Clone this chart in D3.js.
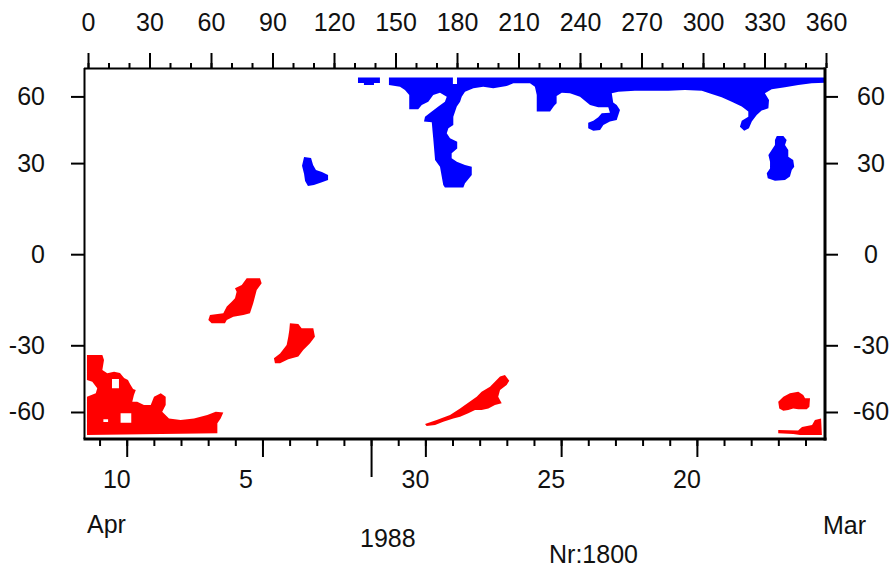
<!DOCTYPE html>
<html>
<head>
<meta charset="utf-8">
<script src="https://cdn.jsdelivr.net/npm/d3@7"></script>
<style>
  body { margin: 0; background: #fff; }
  text { font-family: "Liberation Sans", Arial, sans-serif; font-size: 25px; fill: #111; }
</style>
</head>
<body>
<div id="chart"></div>
<script>
// ---- data ----
// tick labels
var lonTicks = [0, 30, 60, 90, 120, 150, 180, 210, 240, 270, 300, 330, 360];
var latTicks = [-60, -30, 0, 30, 60];
var dayLabels = ["1988-04-10", "1988-04-05", "1988-03-30", "1988-03-25", "1988-03-20"];
var timeStart = "1988-04-11T13:45:00Z";   // left edge of the plot
var timeEnd = "1988-03-15T06:45:00Z";     // right edge of the plot

// northern areas, [lon, lat]
var northBand = [[146.8,76],[146.8,68.2],[152.2,66.8],[154.6,64.3],[156.7,60.9],[156.7,52.7],[161.1,52.7],[162.8,55.0],
  [166.0,56.8],[168.4,60.9],[171.7,62.4],[175.0,59.8],[174.1,56.8],[170.9,54.1],[167.7,51.5],[164.4,49.0],[163.9,46.7],
  [167.7,46.4],[168.1,42.2],[168.4,39.5],[169.3,31.1],[171.7,28.7],[173.3,22.3],[174.1,21.5],[183.1,21.5],[183.9,22.9],
  [187.2,25.8],[187.2,28.7],[183.9,29.3],[179.9,30.5],[177.4,31.8],[177.4,33.6],[180.1,35.5],[180.1,38.1],[176.6,39.5],
  [175.0,41.6],[175.8,43.7],[178.2,45.2],[178.2,49.0],[179.9,54.1],[181.5,56.8],[182.3,59.8],[183.9,63.1],[188.0,65.6],
  [192.8,66.8],[197.7,65.6],[204.2,67.4],[207.5,69.7],[215.6,69.7],[218.0,66.8],[218.9,60.9],[218.9,51.5],[225.4,51.5],
  [227.3,54.4],[228.6,55.9],[228.6,60.3],[231.1,62.4],[235.1,62.0],[240.0,59.8],[244.9,55.0],[248.9,53.7],[253.8,53.7],
  [254.6,50.9],[250.6,50.7],[248.9,48.7],[246.5,47.1],[244.0,46.2],[244.0,43.7],[246.5,42.7],[249.8,43.0],[251.4,45.2],
  [254.6,46.7],[257.9,47.4],[258.7,49.8],[259.5,52.3],[257.9,55.0],[256.2,56.3],[255.5,62.0],[258.7,63.1],[266.8,63.8],
  [275.0,63.8],[283.1,63.8],[291.2,64.3],[299.4,63.8],[304.2,61.6],[309.1,59.4],[314.0,56.8],[318.9,54.1],[322.1,51.5],
  [322.1,49.0],[318.9,47.1],[318.0,44.4],[320.1,42.7],[322.4,43.7],[323.8,46.7],[326.2,49.8],[328.6,52.0],[331.9,53.2],
  [332.2,57.8],[330.2,62.0],[333.5,64.8],[340.0,66.4],[346.5,68.2],[353.0,69.7],[360,70.3],[360,76],[180.0,76],
  [180.0,69.1],[178.0,69.1],[178.0,76]];
var northIsle = [[131.7,76],[142.4,76],[142.4,70],[139.5,70],[139.5,68.2],[134.6,68.2],[134.6,70],[131.7,70]];
var northAsia = [[105.4,32.2],[108.8,31.9],[109.8,29.3],[111.2,27.5],[114.1,26.8],[117.1,25.8],[117.1,24.0],[114.1,23.3],
  [110.2,22.3],[107.3,22.0],[105.9,23.7],[105.4,26.1],[104.4,29.0]];
var northAtlantic = [[336.0,40.4],[339.2,40.4],[340.8,38.8],[340.0,36.8],[341.6,34.9],[341.6,32.3],[344.0,31.1],[344.5,28.7],
  [343.3,27.5],[342.4,25.2],[340.0,24.0],[335.1,23.8],[331.6,24.6],[331.1,26.4],[332.7,28.1],[332.7,30.5],[331.9,33.0],
  [333.5,34.9],[335.1,36.8],[335.1,38.8]];

// southern areas, [lon, lat]
var southWest = [[-0.5,-33.6],[7.0,-33.6],[7.8,-35.5],[7.0,-39.5],[9.4,-40.8],[12.7,-40.2],[15.6,-40.7],[17.6,-42.8],
  [19.5,-43.7],[20.5,-45.4],[22.0,-47.7],[23.3,-48.2],[22.4,-50.6],[21.6,-54.1],[24.0,-54.1],[27.3,-55.9],[30.6,-55.9],
  [32.2,-51.5],[35.5,-49.8],[37.9,-51.5],[37.9,-55.9],[36.2,-59.8],[39.5,-64.3],[45.2,-65.5],[51.7,-64.3],[58.2,-61.9],
  [62.3,-59.8],[66.0,-60.4],[64.7,-64.3],[63.1,-68.1],[63.1,-79.4],[-0.5,-82.9],[-0.5,-51.5],[3.8,-49.8],[4.5,-47.4],
  [2.1,-44.4],[-0.5,-43.7]];
var southWestHoleA = [[11.7,-43.2],[15.1,-43.2],[15.1,-47.4],[11.7,-47.4]];
var southWestHoleB = [[15.9,-60.8],[21.1,-60.8],[21.1,-67.6],[15.9,-67.6]];
var southWestHoleC = [[7.5,-65.0],[9.8,-65.0],[9.8,-67.1],[7.5,-67.1]];
var southIndianA = [[77.4,-7.6],[83.9,-7.6],[84.7,-9.2],[82.3,-11.3],[80.6,-15.6],[79.0,-18.9],[75.8,-19.5],[70.9,-20.1],
  [67.7,-21.2],[66.8,-22.3],[60.3,-22.3],[58.7,-21.2],[59.5,-19.5],[66.0,-18.9],[67.7,-16.7],[70.1,-15.1],[71.7,-14.0],
  [72.5,-11.9],[71.7,-10.8],[75.0,-9.7]];
var southIndianB = [[98.5,-22.3],[102.6,-22.5],[104.2,-24.0],[109.9,-24.0],[110.7,-26.9],[108.3,-29.3],[105.0,-31.7],
  [102.6,-34.2],[97.7,-35.2],[93.7,-36.8],[91.2,-36.8],[90.7,-34.8],[93.7,-33.0],[96.9,-29.9],[97.7,-26.9],[98.2,-24.6]];
var southPacific = [[164.4,-68.7],[170.1,-65.5],[176.6,-61.9],[181.5,-57.8],[183.9,-55.9],[189.6,-51.5],[192.0,-49.0],
  [196.1,-46.7],[201.0,-42.2],[203.4,-41.5],[205.5,-44.0],[204.2,-45.9],[201.0,-48.2],[200.1,-51.5],[201.8,-54.9],
  [198.5,-55.9],[195.3,-57.8],[192.0,-58.8],[188.8,-58.8],[185.5,-60.8],[181.5,-63.1],[178.2,-64.3],[173.3,-66.8],
  [169.3,-69.6],[165.2,-70.6]];
var southEastA = [[339.2,-51.5],[342.4,-49.8],[346.5,-49.0],[348.9,-50.6],[349.8,-52.3],[352.2,-52.3],[351.9,-56.8],
  [350.6,-58.3],[346.5,-58.3],[344.0,-57.8],[341.6,-58.8],[339.2,-59.2],[337.2,-57.8],[336.7,-54.1]];
var southEastB = [[336.7,-74.8],[346.4,-75.4],[348.3,-71.5],[353.2,-69.6],[354.6,-65.5],[357.6,-64.3],[358.0,-82.9],
  [347.3,-82.9],[344.0,-80.6],[336.7,-79.4]];

// each shape: outer ring first, holes after
var northShapes = [[northBand], [northIsle], [northAsia], [northAtlantic]];
var southShapes = [[southWest, southWestHoleA, southWestHoleB, southWestHoleC], [southIndianA], [southIndianB],
  [southPacific], [southEastA], [southEastB]];

// ---- layout ----
var width = 890, height = 570;
var frame = {left: 84, right: 825, top: 68, bottom: 439};

var svg = d3.select("#chart")
  .append("svg")
    .attr("width", width)
    .attr("height", height);

// longitude along the top
var x = d3.scaleLinear()
  .domain([0, 360])
  .range([88, 826]);

// latitude on a sine (equal area) scale
var ys = d3.scaleLinear()
  .domain([-1, 1])
  .range([436.4, 72.0]);
function sinLat(d) { return Math.sin(d * Math.PI / 180); }
function y(lat) { return ys(sinLat(lat)); }

// time along the bottom, running backwards
var t = d3.scaleUtc()
  .domain([new Date(timeStart), new Date(timeEnd)])
  .range([frame.left, frame.right]);

// clip the areas to the frame
svg.append("clipPath")
    .attr("id", "plotClip")
  .append("rect")
    .attr("x", frame.left)
    .attr("y", frame.top)
    .attr("width", frame.right - frame.left)
    .attr("height", frame.bottom - frame.top);

var outline = d3.line()
  .x(function (d) { return x(d[0]); })
  .y(function (d) { return y(d[1]); })
  .curve(d3.curveLinearClosed);

function shapePath(rings) { return rings.map(function (r) { return outline(r); }).join(""); }

var areas = svg.append("g").attr("clip-path", "url(#plotClip)");
areas.selectAll(".north")
  .data(northShapes)
  .join("path")
    .attr("class", "north")
    .attr("d", shapePath)
    .attr("fill", "#0000ff")
    .attr("fill-rule", "evenodd");
areas.selectAll(".south")
  .data(southShapes)
  .join("path")
    .attr("class", "south")
    .attr("d", shapePath)
    .attr("fill", "#ff0000")
    .attr("fill-rule", "evenodd");

// ---- axes ----
function noDomain(g) { g.select(".domain").remove(); g.selectAll(".tick line").attr("stroke-width", 2); }
var latFormat = function (s) { return String(Math.round(Math.asin(s) * 180 / Math.PI)); };

// top: longitude
svg.append("g")
  .attr("transform", "translate(0," + frame.top + ")")
  .call(d3.axisTop(x).tickValues(d3.range(0, 361, 10)).tickSize(5).tickFormat(""))
  .call(noDomain);
svg.append("g")
  .attr("transform", "translate(0," + frame.top + ")")
  .call(d3.axisTop(x).tickValues(lonTicks).tickSize(15).tickPadding(22))
  .call(noDomain);

// left and right: latitude
svg.append("g")
  .attr("transform", "translate(" + frame.left + ",0)")
  .call(d3.axisLeft(ys).tickValues(latTicks.map(sinLat)).tickFormat(latFormat).tickSize(13).tickPadding(26))
  .call(noDomain);
svg.append("g")
  .attr("transform", "translate(" + frame.right + ",0)")
  .call(d3.axisRight(ys).tickValues(latTicks.map(sinLat)).tickFormat(latFormat).tickSize(13))
  .call(noDomain)
  .selectAll("text")
    .attr("x", 46)
    .attr("text-anchor", "middle");

// bottom: days, with a long tick at the month change
var tExtent = d3.extent(t.domain());
var dayDates = dayLabels.map(function (d) { return new Date(d + "T00:00:00Z"); });
svg.append("g")
  .attr("transform", "translate(0," + (frame.bottom + 1) + ")")
  .call(d3.axisBottom(t).tickValues(d3.utcDay.range(tExtent[0], tExtent[1])).tickSize(6).tickFormat(""))
  .call(noDomain);
svg.append("g")
  .attr("transform", "translate(0," + (frame.bottom + 1) + ")")
  .call(d3.axisBottom(t).tickValues(dayDates).tickSize(17).tickFormat(""))
  .call(noDomain);
svg.append("g")
  .attr("transform", "translate(0," + (frame.bottom + 1) + ")")
  .call(d3.axisBottom(t).tickValues(d3.utcMonth.range(tExtent[0], tExtent[1])).tickSize(37).tickFormat(""))
  .call(noDomain);

// day numbers sit right-aligned in a two digit slot
var dayFormat = d3.utcFormat("%-d");
svg.append("g")
  .selectAll("text")
  .data(dayDates)
  .join("text")
    .attr("x", function (d) { return t(d) + 4 - (dayFormat(d).length === 1 ? 13.5 : 0); })
    .attr("y", 488)
    .attr("text-anchor", "end")
    .text(dayFormat);

// ---- frame ----
svg.append("line").attr("x1", frame.left + 0.5).attr("x2", frame.left + 0.5)
  .attr("y1", frame.top).attr("y2", frame.bottom).attr("stroke", "#000").attr("stroke-width", 2);
svg.append("line").attr("x1", frame.left).attr("x2", frame.right)
  .attr("y1", frame.top + 0.5).attr("y2", frame.top + 0.5).attr("stroke", "#000").attr("stroke-width", 2);
svg.append("line").attr("x1", frame.right).attr("x2", frame.right)
  .attr("y1", frame.top - 0.5).attr("y2", frame.bottom + 1.5).attr("stroke", "#000").attr("stroke-width", 3);
svg.append("line").attr("x1", frame.left - 0.5).attr("x2", frame.right + 1.5)
  .attr("y1", frame.bottom).attr("y2", frame.bottom).attr("stroke", "#000").attr("stroke-width", 3);

// ---- captions ----
svg.append("text").attr("x", 87).attr("y", 533).text("Apr");
svg.append("text").attr("x", 823).attr("y", 534).text("Mar");
svg.append("text").attr("x", 360).attr("y", 547).text("1988");
svg.append("text").attr("x", 549).attr("y", 563).text("Nr:1800");
</script>
</body>
</html>
